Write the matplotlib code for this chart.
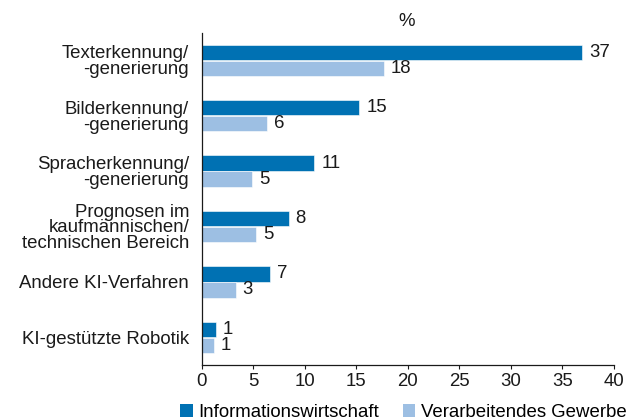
import matplotlib
matplotlib.use("Agg")
import matplotlib.pyplot as plt
from matplotlib.patches import Patch
import numpy as np

plt.rcParams['font.family'] = ['Liberation Sans', 'DejaVu Sans']

categories = ["Texterkennung/\n-generierung", "Bilderkennung/\n-generierung",
              "Spracherkennung/\n-generierung",
              "Prognosen im\nkaufmännischen/\ntechnischen Bereich",
              "Andere KI-Verfahren", "KI-gestützte Robotik"]
info_values = [36.9, 15.3, 10.95, 8.45, 6.65, 1.4]
info_labels = [37, 15, 11, 8, 7, 1]
manu_values = [17.7, 6.35, 4.9, 5.3, 3.3, 1.2]
manu_labels = [18, 6, 5, 5, 3, 1]
series_names = ["Informationswirtschaft", "Verarbeitendes Gewerbe"]
xticks = [0, 5, 10, 15, 20, 25, 30, 35, 40]

c_dark = "#0071B3"
c_light = "#9DBFE3"
fs = 13.4

fig = plt.figure(figsize=(6.3, 4.2), dpi=100)
ax = fig.add_axes([0.320, 0.131, 0.6546, 0.7914])

y = np.arange(len(categories))
h = 0.28
b1 = ax.barh(y - h / 2 - 0.004, info_values, height=h, color=c_dark, edgecolor="white", linewidth=0.4)
b2 = ax.barh(y + h / 2 + 0.004, manu_values, height=h, color=c_light, edgecolor="white", linewidth=0.4)

for bar, lab in zip(b1, info_labels):
    ax.annotate(str(lab), xy=(bar.get_width(), bar.get_y() + bar.get_height() / 2),
                xytext=(5, 0), textcoords="offset points", va="center", ha="left",
                fontsize=fs, color="#1a1a1a")
for bar, lab in zip(b2, manu_labels):
    ax.annotate(str(lab), xy=(bar.get_width(), bar.get_y() + bar.get_height() / 2),
                xytext=(5, 0), textcoords="offset points", va="center", ha="left",
                fontsize=fs, color="#1a1a1a")

ax.set_ylim(len(categories) - 0.5, -0.5)
ax.set_xlim(0, 40)
ax.set_xticks(xticks)
ax.set_xticklabels([str(t) for t in xticks], fontsize=fs, color="#1a1a1a")
ax.set_yticks(y)
ax.set_yticklabels(categories, fontsize=fs, color="#1a1a1a", linespacing=0.92)
ax.tick_params(axis="y", length=0, pad=9)
ax.tick_params(axis="x", length=3, width=0.8, pad=3, direction="out", color="#1a1a1a")

for s in ["top", "right"]:
    ax.spines[s].set_visible(False)
for s in ["left", "bottom"]:
    ax.spines[s].set_linewidth(0.9)
    ax.spines[s].set_color("#1a1a1a")

fig.text(0.646, 0.948, "%", ha="center", va="center", fontsize=fs, color="#1a1a1a")

handles = [Patch(facecolor=c_dark, edgecolor="none"), Patch(facecolor=c_light, edgecolor="none")]
fig.legend(handles, series_names, loc="center", bbox_to_anchor=(0.6405, 0.018), ncol=2,
           frameon=False, fontsize=fs, handlelength=0.65, handleheight=0.65,
           handletextpad=0.3, columnspacing=1.3, borderpad=0, borderaxespad=0)

fig.savefig("out.png", dpi=100)
